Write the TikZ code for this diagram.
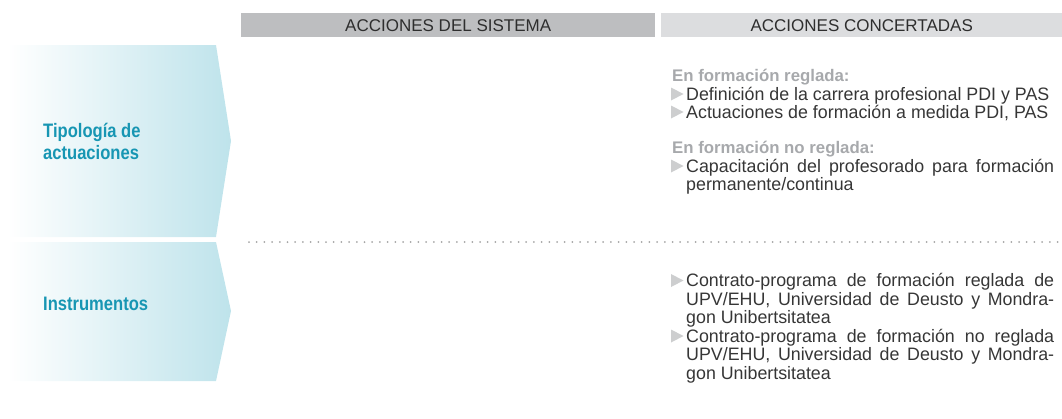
\documentclass[tikz,border=0pt]{standalone}
\usepackage{fontspec}
\setmainfont{Liberation Sans}
\newfontfamily\bodyfont[FakeStretch=0.99]{Liberation Sans}
\newfontfamily\lblfont[FakeStretch=0.85]{Liberation Sans}
\definecolor{bardark}{HTML}{BDBEC0}
\definecolor{barlight}{HTML}{DCDDDF}
\definecolor{chevblue}{HTML}{BEE3EB}
\definecolor{teal}{HTML}{1796B3}
\definecolor{hdrtext}{HTML}{2E2E2E}
\definecolor{bodytext}{HTML}{363636}
\definecolor{subhead}{HTML}{A7A9AC}
\definecolor{bulletgray}{HTML}{CDCECF}
\definecolor{dotgray}{HTML}{A5A5A5}
\usetikzlibrary{calc}
\tikzset{
  hdrbar/.style={anchor=north west, inner sep=0pt, minimum height=24pt,
    font=\fontsize{17}{18}\selectfont, text=hdrtext},
  lbl/.style={anchor=base west, inner sep=0pt, align=left,
    font=\lblfont\bfseries\fontsize{19.5}{22}\selectfont, text=teal},
  bodyline/.style={anchor=base west, inner sep=0pt,
    font=\bodyfont\fontsize{18}{18}\selectfont, text=bodytext},
  subhd/.style={anchor=base west, inner sep=0pt,
    font=\bfseries\fontsize{16.8}{18}\selectfont, text=subhead},
  chev/.style={left color=white, right color=chevblue, draw=none}
}
\newcommand{\tri}[1]{\fill[bulletgray] ($(#1)+(-15,-12.5)$) -- ($(#1)+(-2.5,-6)$) -- ($(#1)+(-15,0.5)$) -- cycle;}
\begin{document}
\begin{tikzpicture}[x=1pt,y=-1pt]
\useasboundingbox (0,0) rectangle (1062,418);
% header bars
\node[hdrbar, fill=bardark, minimum width=414pt] (h1) at (241,13) {ACCIONES DEL SISTEMA};
\node[hdrbar, fill=barlight, minimum width=401pt] (h2) at (661,13) {ACCIONES CONCERTADAS};
% chevrons
\shade[chev] (8,45) -- (216,45) -- (231,141) -- (216,237) -- (8,237) -- cycle;
\shade[chev] (8,242) -- (216,242) -- (231,311) -- (216,381) -- (8,381) -- cycle;
\node[lbl] (tip) at (43,159.5) {Tipología de\\actuaciones};
\node[lbl] (ins) at (43,310) {Instrumentos};
% separator
\draw[dotgray, line width=2pt, line cap=round, dash pattern=on 0pt off 7.7pt] (249,242) -- (1062,242);
% first block
\node[subhd] (s1) at (672,81.5) {En formación reglada:};
\node[bodyline] (a1) at (686,100) {Definición de la carrera profesional PDI y PAS};
\node[bodyline] (a2) at (686,118) {Actuaciones de formación a medida PDI, PAS};
\node[subhd] (s2) at (672,153.5) {En formación no reglada:};
\node[bodyline] (a3) at (686,172) {\makebox[368pt][s]{Capacitación del profesorado para formación}};
\node[bodyline] (a4) at (686,190) {permanente/continua};
\tri{a1.base west}
\tri{a2.base west}
\tri{a3.base west}
% second block
\node[bodyline] (b1) at (686,286.5) {\makebox[368pt][s]{Contrato-programa de formación reglada de}};
\node[bodyline] (b2) at (686,305) {\makebox[368pt][s]{UPV/EHU, Universidad de Deusto y Mondra-}};
\node[bodyline] (b3) at (686,323.5) {gon Unibertsitatea};
\node[bodyline] (b4) at (686,342) {\makebox[368pt][s]{Contrato-programa de formación no reglada}};
\node[bodyline] (b5) at (686,360.5) {\makebox[368pt][s]{UPV/EHU, Universidad de Deusto y Mondra-}};
\node[bodyline] (b6) at (686,379) {gon Unibertsitatea};
\tri{b1.base west}
\tri{b4.base west}
\end{tikzpicture}
\end{document}
